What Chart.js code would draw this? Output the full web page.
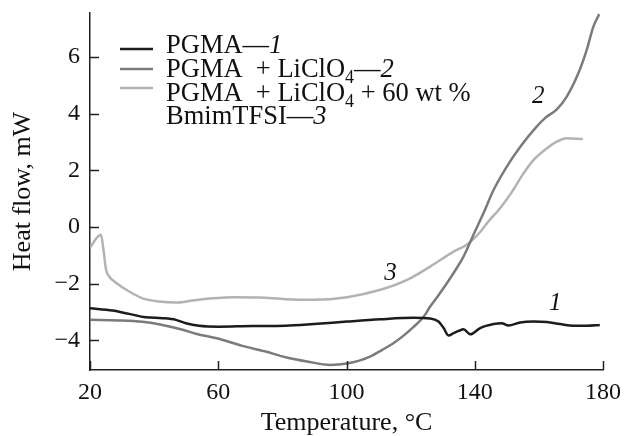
<!DOCTYPE html>
<html>
<head>
<meta charset="utf-8">
<script src="https://cdn.jsdelivr.net/npm/chart.js@4.4.0/dist/chart.umd.min.js"></script>
<style>
  html, body { margin: 0; padding: 0; background: #fff; }
</style>
</head>
<body>
<canvas id="dsc" width="624" height="436"></canvas>
<script>
// curve 1: PGMA
const temp1 = [20, 27, 32.2, 37.4, 42.6, 46.8, 49.9, 54, 60.2, 70.6, 81, 89.8, 100.2, 110.6, 121, 126.1, 128.7, 130.3, 131.8, 133.4, 135, 136.5, 138.6, 141.7, 145.9, 148.4, 150.5, 154.2, 158.3, 162.5, 166.6, 170.8, 174.9, 179]
const flow1 = [-2.87, -2.95, -3.07, -3.19, -3.22, -3.28, -3.40, -3.49, -3.52, -3.50, -3.49, -3.43, -3.34, -3.26, -3.21, -3.23, -3.34, -3.57, -3.83, -3.75, -3.67, -3.61, -3.79, -3.57, -3.43, -3.40, -3.48, -3.37, -3.34, -3.36, -3.43, -3.49, -3.49, -3.46]

// curve 2: PGMA + LiClO4
const temp2 = [20, 29.1, 36.4, 42.6, 48.9, 53, 60.2, 67.5, 74.8, 81, 87.7, 95, 100.2, 104, 107.5, 111, 114.7, 118, 121, 124, 126.1, 128.7, 131.3, 134, 136.5, 139.5, 142.7, 145.9, 150, 154.2, 159.3, 162, 165.6, 168.7, 172.3, 174.9, 177, 178.8]
const flow2 = [-3.28, -3.30, -3.35, -3.46, -3.63, -3.77, -3.95, -4.20, -4.40, -4.60, -4.75, -4.87, -4.82, -4.72, -4.57, -4.35, -4.10, -3.82, -3.52, -3.18, -2.81, -2.41, -1.99, -1.52, -1.05, -0.30, 0.48, 1.31, 2.13, 2.83, 3.54, 3.85, 4.15, 4.60, 5.42, 6.24, 7.07, 7.51]

// curve 3: PGMA + LiClO4 + 60 wt % BmimTFSI
const temp3 = [20, 23.4, 24.2, 25, 26, 28.1, 32.2, 36.4, 41.6, 46.8, 52, 58.2, 65.4, 72.7, 81, 89.8, 100.2, 110.6, 118.9, 126.1, 133.4, 137.5, 141.7, 143.8, 147.9, 151.5, 155.2, 158.3, 162.5, 165.6, 168.7, 173.7]
const flow3 = [-0.72, -0.28, -0.80, -1.50, -1.75, -1.97, -2.28, -2.52, -2.63, -2.67, -2.60, -2.52, -2.48, -2.49, -2.55, -2.57, -2.48, -2.22, -1.87, -1.40, -0.87, -0.63, -0.18, 0.13, 0.66, 1.22, 1.89, 2.36, 2.78, 3.01, 3.13, 3.10]

const seriesLabels = ['PGMA\u20141', 'PGMA + LiClO4\u20142', 'PGMA + LiClO4 + 60 wt % BmimTFSI\u20143']
const seriesColors = ['#1c1c1c', '#7b7b7b', '#b3b3b3']

const xTicks = [20, 60, 100, 140, 180]
const yTicks = [-4, -2, 0, 2, 4, 6]

// curve numbers next to the lines
const tagText = ['1', '2', '3']
const tagTemp = [165.1, 159.8, 113.7]
const tagFlow = [-2.93, 4.37, -1.87]

const serif = "'Times New Roman', 'Liberation Serif', Times, serif"

function pts (xs, ys) {
  return xs.map((x, i) => ({ x: x, y: ys[i] }))
}

// legend rows: [text, kind] pieces, kind n = normal, i = italic, s = subscript
const legendRows = [
  [['PGMA\u2014', 'n'], ['1', 'i']],
  [['PGMA  + LiClO', 'n'], ['4', 's'], ['\u2014', 'n'], ['2', 'i']],
  [['PGMA  + LiClO', 'n'], ['4', 's'], [' + 60 wt %', 'n']],
  [['BmimTFSI\u2014', 'n'], ['3', 'i']]
]

const extras = {
  id: 'extras',
  afterDraw (chart) {
    const ctx = chart.ctx
    const xs = chart.scales.x
    const ys = chart.scales.y
    const area = chart.chartArea
    ctx.save()

    // inward tick marks
    ctx.strokeStyle = '#222'
    ctx.lineWidth = 1.5
    ctx.beginPath()
    xs.ticks.forEach((t) => {
      const px = Math.round(xs.getPixelForValue(t.value)) + 0.5
      ctx.moveTo(px, area.bottom)
      ctx.lineTo(px, area.bottom - 9)
    })
    ys.ticks.forEach((t) => {
      const py = Math.round(ys.getPixelForValue(t.value)) + 0.5
      ctx.moveTo(area.left, py)
      ctx.lineTo(area.left + 9, py)
    })
    ctx.stroke()

    // curve numbers
    ctx.fillStyle = '#111'
    ctx.font = 'italic 25px ' + serif
    ctx.textAlign = 'center'
    ctx.textBaseline = 'alphabetic'
    tagText.forEach((t, i) => {
      ctx.fillText(t, xs.getPixelForValue(tagTemp[i]), ys.getPixelForValue(tagFlow[i]))
    })

    // legend
    const sampleY = [49, 69, 88]
    chart.data.datasets.forEach((ds, i) => {
      ctx.strokeStyle = ds.borderColor
      ctx.lineWidth = 2.5
      ctx.beginPath()
      ctx.moveTo(120, sampleY[i])
      ctx.lineTo(153, sampleY[i])
      ctx.stroke()
    })
    const baselines = [53, 77, 101, 124]
    ctx.textAlign = 'left'
    legendRows.forEach((row, r) => {
      let x = 166
      row.forEach(([txt, kind]) => {
        let y = baselines[r]
        if (kind === 'i') ctx.font = 'italic 26.5px ' + serif
        else if (kind === 's') { ctx.font = '18px ' + serif; y += 6 }
        else ctx.font = '26.5px ' + serif
        ctx.fillText(txt, x, y)
        x += ctx.measureText(txt).width
      })
    })
    ctx.restore()
  }
}

new Chart(document.getElementById('dsc').getContext('2d'), {
  type: 'line',
  data: {
    datasets: [
      { label: seriesLabels[0], data: pts(temp1, flow1), borderColor: seriesColors[0] },
      { label: seriesLabels[1], data: pts(temp2, flow2), borderColor: seriesColors[1] },
      { label: seriesLabels[2], data: pts(temp3, flow3), borderColor: seriesColors[2] }
    ]
  },
  options: {
    responsive: false,
    animation: false,
    elements: {
      point: { radius: 0 },
      line: { borderWidth: 2.5, cubicInterpolationMode: 'monotone', fill: false }
    },
    layout: {
      padding: { top: 13, right: 21, left: 0, bottom: 0 }
    },
    plugins: {
      legend: { display: false },
      tooltip: { enabled: false }
    },
    scales: {
      x: {
        type: 'linear',
        min: 20,
        max: 180,
        afterFit: (s) => { s.height = 66; s.paddingLeft = 0; s.paddingRight = 0 },
        afterBuildTicks: (s) => { s.ticks = xTicks.map((v) => ({ value: v })) },
        ticks: {
          padding: 8,
          color: '#111',
          maxRotation: 0,
          font: { family: serif, size: 24 }
        },
        grid: { drawOnChartArea: false, drawTicks: false },
        border: { color: '#222', width: 1.5 },
        title: {
          display: true,
          text: 'Temperature, \u00b0C',
          color: '#111',
          font: { family: serif, size: 26, lineHeight: 1 },
          padding: { top: 0, bottom: 0 }
        }
      },
      y: {
        type: 'linear',
        min: -5.05,
        max: 7.55,
        afterFit: (s) => { s.width = 90; s.paddingTop = 0; s.paddingBottom = 0 },
        afterBuildTicks: (s) => { s.ticks = yTicks.map((v) => ({ value: v })) },
        ticks: {
          padding: 10,
          color: '#111',
          font: { family: serif, size: 24 },
          callback: (v) => String(v).replace('-', '\u2212')
        },
        grid: { drawOnChartArea: false, drawTicks: false },
        border: { color: '#222', width: 1.5 },
        title: {
          display: true,
          text: 'Heat flow, mW',
          color: '#111',
          font: { family: serif, size: 26, lineHeight: 1 },
          padding: { top: 10, bottom: 0 }
        }
      }
    }
  },
  plugins: [extras]
})
</script>
</body>
</html>
